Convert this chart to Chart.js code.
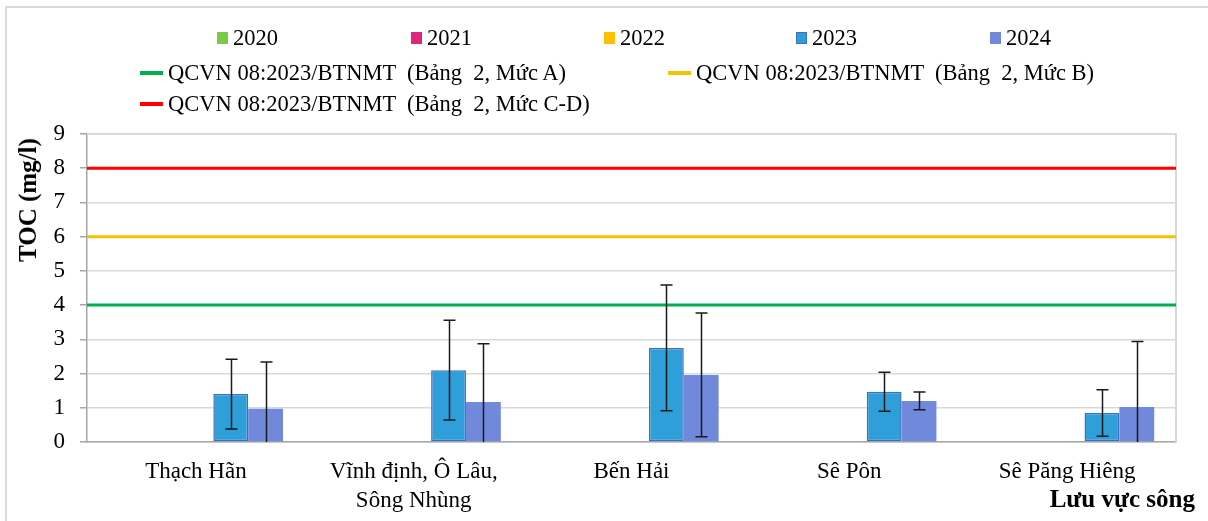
<!DOCTYPE html>
<html>
<head>
<meta charset="utf-8">
<script src="https://cdn.jsdelivr.net/npm/chart.js@4/dist/chart.umd.min.js"></script>
<style>
  html, body { margin: 0; padding: 0; background: #fff; }
  #wrap { position: relative; width: 1208px; height: 521px; overflow: hidden;
          font-family: "Liberation Serif", "Times New Roman", serif; color: #000; }
  #frame { position: absolute; left: 5px; top: 6px; width: 1300px; height: 600px;
           border: 2px solid #d9d9d9; box-sizing: border-box; }
  canvas { position: absolute; left: 0; top: 0; }
  .lg { position: absolute; font-size: 22.5px; white-space: pre; line-height: 1;
        transform: translateY(-50%); }
  .sw { position: absolute; }
  #ytitle { position: absolute; font-weight: bold; font-size: 25px; white-space: pre;
            left: 28px; top: 200px; transform: translate(-50%, -50%) rotate(-90deg); }
  #xtitle { position: absolute; font-weight: bold; font-size: 25px; white-space: pre;
            right: 13px; top: 499px; transform: translateY(-50%); }
</style>
</head>
<body>
<div id="wrap">
  <div id="frame"></div>
  <canvas id="c" width="1208" height="521"></canvas>
  <div id="legend"></div>
  <div id="ytitle">TOC (mg/l)</div>
  <div id="xtitle">Lưu vực sông</div>
</div>
<script>
// River basins (x categories)
const basins = [
  ["Thạch Hãn"],
  ["Vĩnh định, Ô Lâu,", "Sông Nhùng"],
  ["Bến Hải"],
  ["Sê Pôn"],
  ["Sê Păng Hiêng"]
];

// Monitoring years and their colours
const years = ["2020", "2021", "2022", "2023", "2024"];
const yearColors = ["#77cc44", "#e0267a", "#ffc000", "#2e9fd8", "#7189db"];

// Mean TOC (mg/l) per basin and year
const toc2020 = [null, null, null, null, null];
const toc2021 = [null, null, null, null, null];
const toc2022 = [null, null, null, null, null];
const toc2023 = [1.40, 2.10, 2.75, 1.47, 0.85];
const toc2024 = [0.97, 1.17, 1.96, 1.20, 1.02];

// Standard deviation (error bar half-length)
const sd2023 = [1.02, 1.46, 1.84, 0.57, 0.68];
const sd2024 = [1.37, 1.70, 1.81, 0.26, 1.92];

// QCVN 08:2023/BTNMT limits (Bảng 2)
const limitNames = [
  "QCVN 08:2023/BTNMT  (Bảng  2, Mức A)",
  "QCVN 08:2023/BTNMT  (Bảng  2, Mức B)",
  "QCVN 08:2023/BTNMT  (Bảng  2, Mức C-D)"
];
const limitValues = [4, 6, 8];
const limitColors = ["#00b050", "#f2c400", "#ff0000"];

// Y axis ticks
const yMin = 0, yMax = 9, yStep = 1;

const seriesValues = [toc2020, toc2021, toc2022, toc2023, toc2024];
const seriesErrors = [null, null, null, sd2023, sd2024];

// ---- legend (HTML) ----
const legend = document.getElementById('legend');
const yearLegendX = [217, 411, 604, 796, 990];
years.forEach((y, i) => {
  const sw = document.createElement('div');
  sw.className = 'sw';
  const isOutlined = (i === 3);
  Object.assign(sw.style, {
    left: yearLegendX[i] + 'px', top: '32px', width: '11px', height: '12px',
    background: yearColors[i], boxSizing: 'border-box',
    border: isOutlined ? '1.5px solid #3a6fc4' : 'none'
  });
  legend.appendChild(sw);
  const t = document.createElement('div');
  t.className = 'lg';
  t.textContent = y;
  t.style.left = (yearLegendX[i] + 16) + 'px';
  t.style.top = '38px';
  legend.appendChild(t);
});
const limitLegendPos = [[140, 73], [668, 73], [140, 104]];
limitNames.forEach((n, i) => {
  const [lx, ly] = limitLegendPos[i];
  const sw = document.createElement('div');
  sw.className = 'sw';
  Object.assign(sw.style, {
    left: lx + 'px', top: (ly - 2) + 'px', width: '23px', height: '4px',
    background: limitColors[i]
  });
  legend.appendChild(sw);
  const t = document.createElement('div');
  t.className = 'lg';
  t.textContent = n;
  t.style.left = (lx + 28) + 'px';
  t.style.top = ly + 'px';
  legend.appendChild(t);
});

// ---- plugins ----
const limitLines = {
  id: 'limitLines',
  beforeDatasetsDraw(chart) {
    const { ctx, chartArea, scales } = chart;
    ctx.save();
    limitValues.forEach((v, i) => {
      const y = scales.y.getPixelForValue(v);
      ctx.strokeStyle = limitColors[i];
      ctx.lineWidth = 3;
      ctx.beginPath();
      ctx.moveTo(chartArea.left, y);
      ctx.lineTo(chartArea.right, y);
      ctx.stroke();
    });
    ctx.restore();
  }
};

const plotFrame = {
  id: 'plotFrame',
  beforeDatasetsDraw(chart) {
    const { ctx, chartArea } = chart;
    ctx.save();
    ctx.strokeStyle = '#d9d9d9';
    ctx.lineWidth = 2;
    ctx.beginPath();
    ctx.moveTo(chartArea.left, chartArea.top);
    ctx.lineTo(chartArea.right, chartArea.top);
    ctx.lineTo(chartArea.right, chartArea.bottom);
    ctx.stroke();
    ctx.restore();
  }
};

const errorBars = {
  id: 'errorBars',
  afterDatasetsDraw(chart) {
    const { ctx, chartArea, scales } = chart;
    ctx.save();
    ctx.beginPath();
    ctx.rect(chartArea.left, chartArea.top - 1, chartArea.right - chartArea.left, chartArea.bottom - chartArea.top + 1);
    ctx.clip();
    ctx.strokeStyle = '#1a1a1a';
    ctx.lineWidth = 1.5;
    chart.data.datasets.forEach((ds, di) => {
      const errs = seriesErrors[di];
      if (!errs) return;
      const meta = chart.getDatasetMeta(di);
      meta.data.forEach((bar, k) => {
        const v = ds.data[k];
        if (v == null || errs[k] == null) return;
        const x = Math.round(bar.x) + 0.5;
        const yTop = scales.y.getPixelForValue(v + errs[k]);
        const yBot = scales.y.getPixelForValue(v - errs[k]);
        ctx.beginPath();
        ctx.moveTo(x, yTop);
        ctx.lineTo(x, yBot);
        ctx.moveTo(x - 6, yTop);
        ctx.lineTo(x + 6, yTop);
        if (v - errs[k] >= yMin) {
          ctx.moveTo(x - 6, yBot);
          ctx.lineTo(x + 6, yBot);
        }
        ctx.stroke();
      });
    });
    ctx.restore();
  }
};

const datasets = years.map((y, i) => ({
  label: y,
  data: seriesValues[i],
  backgroundColor: yearColors[i],
  borderColor: i === 3 ? '#3a6fc4' : yearColors[i],
  borderWidth: i === 3 ? 1.5 : 0,
  borderSkipped: false,
  categoryPercentage: 0.8,
  barPercentage: 1.0
}));

const FONT = "'Liberation Serif', 'Times New Roman', serif";

new Chart(document.getElementById('c'), {
  type: 'bar',
  data: { labels: basins, datasets },
  options: {
    responsive: false,
    animation: false,
    devicePixelRatio: 1,
    layout: { padding: { top: 134, right: 32, left: 0, bottom: 0 } },
    plugins: { legend: { display: false }, tooltip: { enabled: false } },
    scales: {
      x: {
        grid: { display: false, drawTicks: false },
        border: { display: true, color: '#a6a6a6', width: 1.5 },
        ticks: {
          color: '#000', padding: 15, maxRotation: 0, autoSkip: false,
          font: { family: FONT, size: 23, lineHeight: 1.27 }
        },
        afterFit(scale) { scale.height = 79; }
      },
      y: {
        min: yMin, max: yMax,
        grid: { color: '#d9d9d9', lineWidth: 1.5, drawTicks: true, tickLength: 7,
                tickColor: '#a6a6a6' },
        border: { display: true, color: '#a6a6a6', width: 1.5 },
        ticks: {
          stepSize: yStep, color: '#000', padding: 15,
          font: { family: FONT, size: 23 }
        },
        afterFit(scale) { scale.width = 87; }
      }
    }
  },
  plugins: [plotFrame, limitLines, errorBars]
});
</script>
</body>
</html>
